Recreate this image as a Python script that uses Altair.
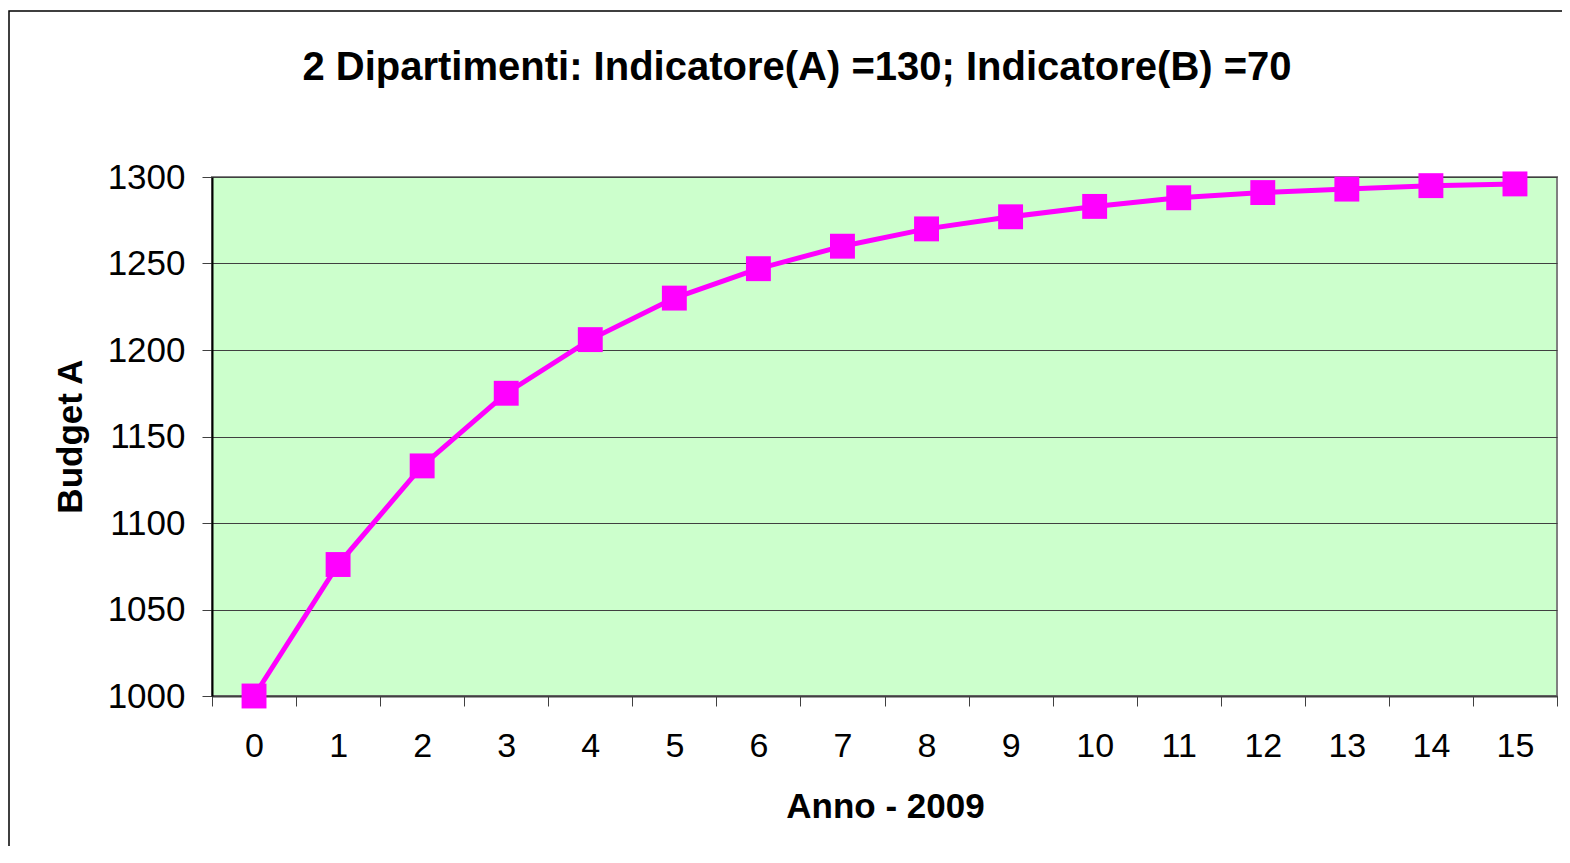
import altair as alt
import pandas as pd

anni = list(range(16))
budget_a = [1000, 1076, 1133, 1175, 1206, 1230, 1247, 1260, 1270, 1277, 1283, 1288, 1291, 1293, 1295, 1296]
y_ticks = [1000, 1050, 1100, 1150, 1200, 1250, 1300]
titolo = "2 Dipartimenti: Indicatore(A) =130; Indicatore(B) =70"

df = pd.DataFrame({"Anno": anni, "Budget": budget_a})

W, H = 1345, 519
FONT = "Liberation Sans"

x_enc = alt.X("Anno:O",
              scale=alt.Scale(paddingInner=0, paddingOuter=0),
              axis=alt.Axis(title="Anno - 2009", labelAngle=0, tickBand="extent",
                            labelFontSize=34, labelColor="black", labelPadding=23,
                            tickSize=10, tickColor="#404040", domainColor="#404040",
                            domainWidth=2, titleFontSize=35, titleFontWeight="bold",
                            titleX=673, titleY=110, titleBaseline="middle",
                            titleColor="black", grid=False))
y_enc = alt.Y("Budget:Q",
              scale=alt.Scale(domain=[1000, 1300], nice=False, zero=False),
              axis=alt.Axis(title="Budget A", values=y_ticks, format="d", labelFontSize=35,
                            labelColor="black", labelPadding=17, tickSize=10,
                            tickColor="#404040", domainColor="black", domainWidth=2,
                            titleFontSize=35, titleFontWeight="bold", titleColor="black",
                            titleX=-142, titleY=259, titleAngle=-90,
                            titleBaseline="middle", titleAlign="center",
                            grid=True, gridColor="#404040", gridWidth=1))

line = alt.Chart(df).mark_line(color="#FF00FF", strokeWidth=5).encode(x=x_enc, y=y_enc)
pts = alt.Chart(df).mark_square(color="#FF00FF", size=620, opacity=1, filled=True).encode(
    x="Anno:O", y="Budget:Q")

border_df = pd.DataFrame({"k": [0]})
border = alt.Chart(border_df).mark_rect(fill=None, stroke="black", strokeWidth=1.5).encode(
    x=alt.value(-203), x2=alt.value(1400), y=alt.value(-166), y2=alt.value(720))

title_df = pd.DataFrame({"t": [titolo]})
title_mark = alt.Chart(title_df).mark_text(
    font=FONT, fontSize=40, fontWeight="bold", color="black",
    align="center", baseline="alphabetic").encode(
    text="t:N", x=alt.value(585), y=alt.value(-97))

chart = alt.layer(border, line, pts, title_mark).properties(
    width=W, height=H,
    autosize=alt.AutoSizeParams(type="none"),
    padding={"left": 204, "top": 169, "right": 5, "bottom": 150},
).configure(font=FONT, background="white").configure_view(
    fill="#CCFFCC", stroke="#808080", strokeWidth=2
).configure_axis(labelFont=FONT, titleFont=FONT)

chart.save("out.html", embed_options={"renderer": "svg", "actions": False})
